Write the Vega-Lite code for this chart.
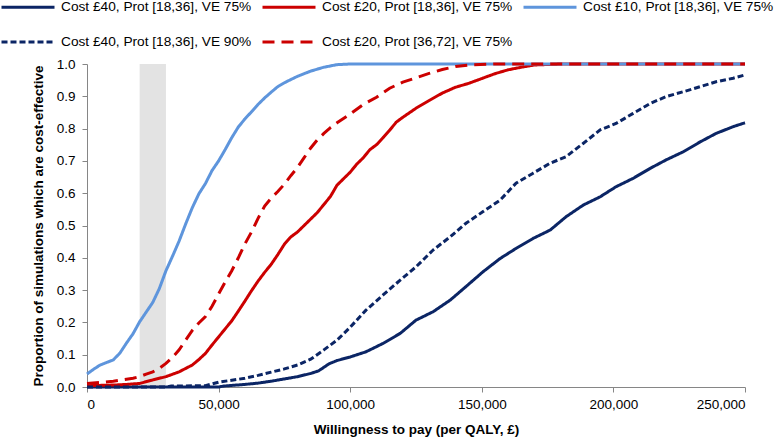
{
  "$schema": "https://vega.github.io/schema/vega-lite/v6.json",
  "width": 658,
  "height": 323,
  "autosize": {"type": "none"},
  "padding": {"left": 87, "top": 64, "right": 32, "bottom": 55},
  "background": "white",
  "config": {"view": {"stroke": null}, "font": "Liberation Sans"},
  "datasets": {
    "band": [{"from": 20000, "to": 30000}],
    "curves": [
      {"series": "Cost £40, Prot [18,36], VE 75%", "wtp": 0, "p": 0},
      {"series": "Cost £40, Prot [18,36], VE 75%", "wtp": 50000, "p": 0},
      {"series": "Cost £40, Prot [18,36], VE 75%", "wtp": 52000, "p": 0.003},
      {"series": "Cost £40, Prot [18,36], VE 75%", "wtp": 60000, "p": 0.008},
      {"series": "Cost £40, Prot [18,36], VE 75%", "wtp": 65000, "p": 0.012},
      {"series": "Cost £40, Prot [18,36], VE 75%", "wtp": 70000, "p": 0.018},
      {"series": "Cost £40, Prot [18,36], VE 75%", "wtp": 75000, "p": 0.025},
      {"series": "Cost £40, Prot [18,36], VE 75%", "wtp": 80000, "p": 0.032},
      {"series": "Cost £40, Prot [18,36], VE 75%", "wtp": 85000, "p": 0.042},
      {"series": "Cost £40, Prot [18,36], VE 75%", "wtp": 88000, "p": 0.05},
      {"series": "Cost £40, Prot [18,36], VE 75%", "wtp": 92000, "p": 0.072},
      {"series": "Cost £40, Prot [18,36], VE 75%", "wtp": 95000, "p": 0.082},
      {"series": "Cost £40, Prot [18,36], VE 75%", "wtp": 100000, "p": 0.093},
      {"series": "Cost £40, Prot [18,36], VE 75%", "wtp": 106000, "p": 0.109},
      {"series": "Cost £40, Prot [18,36], VE 75%", "wtp": 112500, "p": 0.135},
      {"series": "Cost £40, Prot [18,36], VE 75%", "wtp": 119000, "p": 0.166},
      {"series": "Cost £40, Prot [18,36], VE 75%", "wtp": 125000, "p": 0.207},
      {"series": "Cost £40, Prot [18,36], VE 75%", "wtp": 131500, "p": 0.233},
      {"series": "Cost £40, Prot [18,36], VE 75%", "wtp": 138000, "p": 0.269},
      {"series": "Cost £40, Prot [18,36], VE 75%", "wtp": 144000, "p": 0.311},
      {"series": "Cost £40, Prot [18,36], VE 75%", "wtp": 150500, "p": 0.357},
      {"series": "Cost £40, Prot [18,36], VE 75%", "wtp": 157000, "p": 0.398},
      {"series": "Cost £40, Prot [18,36], VE 75%", "wtp": 163000, "p": 0.429},
      {"series": "Cost £40, Prot [18,36], VE 75%", "wtp": 169500, "p": 0.46},
      {"series": "Cost £40, Prot [18,36], VE 75%", "wtp": 176000, "p": 0.486},
      {"series": "Cost £40, Prot [18,36], VE 75%", "wtp": 182000, "p": 0.527},
      {"series": "Cost £40, Prot [18,36], VE 75%", "wtp": 188500, "p": 0.563},
      {"series": "Cost £40, Prot [18,36], VE 75%", "wtp": 195000, "p": 0.589},
      {"series": "Cost £40, Prot [18,36], VE 75%", "wtp": 201000, "p": 0.62},
      {"series": "Cost £40, Prot [18,36], VE 75%", "wtp": 207500, "p": 0.646},
      {"series": "Cost £40, Prot [18,36], VE 75%", "wtp": 214000, "p": 0.677},
      {"series": "Cost £40, Prot [18,36], VE 75%", "wtp": 220000, "p": 0.703},
      {"series": "Cost £40, Prot [18,36], VE 75%", "wtp": 226500, "p": 0.728},
      {"series": "Cost £40, Prot [18,36], VE 75%", "wtp": 233000, "p": 0.759},
      {"series": "Cost £40, Prot [18,36], VE 75%", "wtp": 239000, "p": 0.785},
      {"series": "Cost £40, Prot [18,36], VE 75%", "wtp": 245500, "p": 0.806},
      {"series": "Cost £40, Prot [18,36], VE 75%", "wtp": 250000, "p": 0.818},

      {"series": "Cost £20, Prot [18,36], VE 75%", "wtp": 0, "p": 0.004},
      {"series": "Cost £20, Prot [18,36], VE 75%", "wtp": 10000, "p": 0.006},
      {"series": "Cost £20, Prot [18,36], VE 75%", "wtp": 15000, "p": 0.008},
      {"series": "Cost £20, Prot [18,36], VE 75%", "wtp": 20000, "p": 0.011},
      {"series": "Cost £20, Prot [18,36], VE 75%", "wtp": 25000, "p": 0.022},
      {"series": "Cost £20, Prot [18,36], VE 75%", "wtp": 30000, "p": 0.032},
      {"series": "Cost £20, Prot [18,36], VE 75%", "wtp": 35000, "p": 0.047},
      {"series": "Cost £20, Prot [18,36], VE 75%", "wtp": 40000, "p": 0.068},
      {"series": "Cost £20, Prot [18,36], VE 75%", "wtp": 42500, "p": 0.085},
      {"series": "Cost £20, Prot [18,36], VE 75%", "wtp": 45000, "p": 0.104},
      {"series": "Cost £20, Prot [18,36], VE 75%", "wtp": 47500, "p": 0.13},
      {"series": "Cost £20, Prot [18,36], VE 75%", "wtp": 50000, "p": 0.155},
      {"series": "Cost £20, Prot [18,36], VE 75%", "wtp": 52500, "p": 0.18},
      {"series": "Cost £20, Prot [18,36], VE 75%", "wtp": 55000, "p": 0.205},
      {"series": "Cost £20, Prot [18,36], VE 75%", "wtp": 57500, "p": 0.235},
      {"series": "Cost £20, Prot [18,36], VE 75%", "wtp": 60000, "p": 0.266},
      {"series": "Cost £20, Prot [18,36], VE 75%", "wtp": 62500, "p": 0.298},
      {"series": "Cost £20, Prot [18,36], VE 75%", "wtp": 65000, "p": 0.328},
      {"series": "Cost £20, Prot [18,36], VE 75%", "wtp": 67500, "p": 0.355},
      {"series": "Cost £20, Prot [18,36], VE 75%", "wtp": 70000, "p": 0.38},
      {"series": "Cost £20, Prot [18,36], VE 75%", "wtp": 72500, "p": 0.41},
      {"series": "Cost £20, Prot [18,36], VE 75%", "wtp": 75000, "p": 0.442},
      {"series": "Cost £20, Prot [18,36], VE 75%", "wtp": 77500, "p": 0.465},
      {"series": "Cost £20, Prot [18,36], VE 75%", "wtp": 80000, "p": 0.48},
      {"series": "Cost £20, Prot [18,36], VE 75%", "wtp": 82500, "p": 0.5},
      {"series": "Cost £20, Prot [18,36], VE 75%", "wtp": 85000, "p": 0.52},
      {"series": "Cost £20, Prot [18,36], VE 75%", "wtp": 87500, "p": 0.54},
      {"series": "Cost £20, Prot [18,36], VE 75%", "wtp": 90000, "p": 0.565},
      {"series": "Cost £20, Prot [18,36], VE 75%", "wtp": 92500, "p": 0.59},
      {"series": "Cost £20, Prot [18,36], VE 75%", "wtp": 95000, "p": 0.625},
      {"series": "Cost £20, Prot [18,36], VE 75%", "wtp": 97500, "p": 0.645},
      {"series": "Cost £20, Prot [18,36], VE 75%", "wtp": 100000, "p": 0.665},
      {"series": "Cost £20, Prot [18,36], VE 75%", "wtp": 102500, "p": 0.69},
      {"series": "Cost £20, Prot [18,36], VE 75%", "wtp": 105000, "p": 0.71},
      {"series": "Cost £20, Prot [18,36], VE 75%", "wtp": 107500, "p": 0.735},
      {"series": "Cost £20, Prot [18,36], VE 75%", "wtp": 110000, "p": 0.75},
      {"series": "Cost £20, Prot [18,36], VE 75%", "wtp": 112500, "p": 0.772},
      {"series": "Cost £20, Prot [18,36], VE 75%", "wtp": 115000, "p": 0.795},
      {"series": "Cost £20, Prot [18,36], VE 75%", "wtp": 117500, "p": 0.82},
      {"series": "Cost £20, Prot [18,36], VE 75%", "wtp": 120000, "p": 0.835},
      {"series": "Cost £20, Prot [18,36], VE 75%", "wtp": 125000, "p": 0.863},
      {"series": "Cost £20, Prot [18,36], VE 75%", "wtp": 130000, "p": 0.887},
      {"series": "Cost £20, Prot [18,36], VE 75%", "wtp": 135000, "p": 0.91},
      {"series": "Cost £20, Prot [18,36], VE 75%", "wtp": 140000, "p": 0.928},
      {"series": "Cost £20, Prot [18,36], VE 75%", "wtp": 145000, "p": 0.94},
      {"series": "Cost £20, Prot [18,36], VE 75%", "wtp": 150000, "p": 0.955},
      {"series": "Cost £20, Prot [18,36], VE 75%", "wtp": 155000, "p": 0.97},
      {"series": "Cost £20, Prot [18,36], VE 75%", "wtp": 160000, "p": 0.982},
      {"series": "Cost £20, Prot [18,36], VE 75%", "wtp": 165000, "p": 0.99},
      {"series": "Cost £20, Prot [18,36], VE 75%", "wtp": 170000, "p": 0.997},
      {"series": "Cost £20, Prot [18,36], VE 75%", "wtp": 180000, "p": 1},
      {"series": "Cost £20, Prot [18,36], VE 75%", "wtp": 250000, "p": 1},

      {"series": "Cost £10, Prot [18,36], VE 75%", "wtp": 0, "p": 0.04},
      {"series": "Cost £10, Prot [18,36], VE 75%", "wtp": 2500, "p": 0.055},
      {"series": "Cost £10, Prot [18,36], VE 75%", "wtp": 5000, "p": 0.068},
      {"series": "Cost £10, Prot [18,36], VE 75%", "wtp": 7500, "p": 0.076},
      {"series": "Cost £10, Prot [18,36], VE 75%", "wtp": 10000, "p": 0.084},
      {"series": "Cost £10, Prot [18,36], VE 75%", "wtp": 12500, "p": 0.105},
      {"series": "Cost £10, Prot [18,36], VE 75%", "wtp": 15000, "p": 0.136},
      {"series": "Cost £10, Prot [18,36], VE 75%", "wtp": 17500, "p": 0.165},
      {"series": "Cost £10, Prot [18,36], VE 75%", "wtp": 20000, "p": 0.202},
      {"series": "Cost £10, Prot [18,36], VE 75%", "wtp": 22500, "p": 0.232},
      {"series": "Cost £10, Prot [18,36], VE 75%", "wtp": 25000, "p": 0.262},
      {"series": "Cost £10, Prot [18,36], VE 75%", "wtp": 27500, "p": 0.305},
      {"series": "Cost £10, Prot [18,36], VE 75%", "wtp": 30000, "p": 0.36},
      {"series": "Cost £10, Prot [18,36], VE 75%", "wtp": 32500, "p": 0.405},
      {"series": "Cost £10, Prot [18,36], VE 75%", "wtp": 35000, "p": 0.452},
      {"series": "Cost £10, Prot [18,36], VE 75%", "wtp": 37500, "p": 0.505},
      {"series": "Cost £10, Prot [18,36], VE 75%", "wtp": 40000, "p": 0.555},
      {"series": "Cost £10, Prot [18,36], VE 75%", "wtp": 42500, "p": 0.598},
      {"series": "Cost £10, Prot [18,36], VE 75%", "wtp": 45000, "p": 0.63},
      {"series": "Cost £10, Prot [18,36], VE 75%", "wtp": 47500, "p": 0.67},
      {"series": "Cost £10, Prot [18,36], VE 75%", "wtp": 50000, "p": 0.7},
      {"series": "Cost £10, Prot [18,36], VE 75%", "wtp": 52500, "p": 0.735},
      {"series": "Cost £10, Prot [18,36], VE 75%", "wtp": 55000, "p": 0.772},
      {"series": "Cost £10, Prot [18,36], VE 75%", "wtp": 57500, "p": 0.805},
      {"series": "Cost £10, Prot [18,36], VE 75%", "wtp": 60000, "p": 0.83},
      {"series": "Cost £10, Prot [18,36], VE 75%", "wtp": 62500, "p": 0.852},
      {"series": "Cost £10, Prot [18,36], VE 75%", "wtp": 65000, "p": 0.875},
      {"series": "Cost £10, Prot [18,36], VE 75%", "wtp": 67500, "p": 0.895},
      {"series": "Cost £10, Prot [18,36], VE 75%", "wtp": 70000, "p": 0.913},
      {"series": "Cost £10, Prot [18,36], VE 75%", "wtp": 72500, "p": 0.93},
      {"series": "Cost £10, Prot [18,36], VE 75%", "wtp": 75000, "p": 0.942},
      {"series": "Cost £10, Prot [18,36], VE 75%", "wtp": 80000, "p": 0.962},
      {"series": "Cost £10, Prot [18,36], VE 75%", "wtp": 85000, "p": 0.978},
      {"series": "Cost £10, Prot [18,36], VE 75%", "wtp": 90000, "p": 0.99},
      {"series": "Cost £10, Prot [18,36], VE 75%", "wtp": 95000, "p": 0.998},
      {"series": "Cost £10, Prot [18,36], VE 75%", "wtp": 100000, "p": 1},
      {"series": "Cost £10, Prot [18,36], VE 75%", "wtp": 250000, "p": 1},

      {"series": "Cost £40, Prot [18,36], VE 90%", "wtp": 0, "p": 0},
      {"series": "Cost £40, Prot [18,36], VE 90%", "wtp": 30000, "p": 0},
      {"series": "Cost £40, Prot [18,36], VE 90%", "wtp": 32000, "p": 0.003},
      {"series": "Cost £40, Prot [18,36], VE 90%", "wtp": 45000, "p": 0.004},
      {"series": "Cost £40, Prot [18,36], VE 90%", "wtp": 50000, "p": 0.015},
      {"series": "Cost £40, Prot [18,36], VE 90%", "wtp": 55000, "p": 0.021},
      {"series": "Cost £40, Prot [18,36], VE 90%", "wtp": 60000, "p": 0.027},
      {"series": "Cost £40, Prot [18,36], VE 90%", "wtp": 65000, "p": 0.036},
      {"series": "Cost £40, Prot [18,36], VE 90%", "wtp": 70000, "p": 0.046},
      {"series": "Cost £40, Prot [18,36], VE 90%", "wtp": 75000, "p": 0.056},
      {"series": "Cost £40, Prot [18,36], VE 90%", "wtp": 80000, "p": 0.068},
      {"series": "Cost £40, Prot [18,36], VE 90%", "wtp": 85000, "p": 0.086},
      {"series": "Cost £40, Prot [18,36], VE 90%", "wtp": 90000, "p": 0.115},
      {"series": "Cost £40, Prot [18,36], VE 90%", "wtp": 95000, "p": 0.145},
      {"series": "Cost £40, Prot [18,36], VE 90%", "wtp": 100000, "p": 0.185},
      {"series": "Cost £40, Prot [18,36], VE 90%", "wtp": 106000, "p": 0.238},
      {"series": "Cost £40, Prot [18,36], VE 90%", "wtp": 112500, "p": 0.285},
      {"series": "Cost £40, Prot [18,36], VE 90%", "wtp": 119000, "p": 0.331},
      {"series": "Cost £40, Prot [18,36], VE 90%", "wtp": 125000, "p": 0.372},
      {"series": "Cost £40, Prot [18,36], VE 90%", "wtp": 131500, "p": 0.424},
      {"series": "Cost £40, Prot [18,36], VE 90%", "wtp": 138000, "p": 0.465},
      {"series": "Cost £40, Prot [18,36], VE 90%", "wtp": 144000, "p": 0.507},
      {"series": "Cost £40, Prot [18,36], VE 90%", "wtp": 150500, "p": 0.543},
      {"series": "Cost £40, Prot [18,36], VE 90%", "wtp": 157000, "p": 0.579},
      {"series": "Cost £40, Prot [18,36], VE 90%", "wtp": 163000, "p": 0.631},
      {"series": "Cost £40, Prot [18,36], VE 90%", "wtp": 169500, "p": 0.662},
      {"series": "Cost £40, Prot [18,36], VE 90%", "wtp": 176000, "p": 0.693},
      {"series": "Cost £40, Prot [18,36], VE 90%", "wtp": 182000, "p": 0.713},
      {"series": "Cost £40, Prot [18,36], VE 90%", "wtp": 188500, "p": 0.754},
      {"series": "Cost £40, Prot [18,36], VE 90%", "wtp": 195000, "p": 0.796},
      {"series": "Cost £40, Prot [18,36], VE 90%", "wtp": 201000, "p": 0.816},
      {"series": "Cost £40, Prot [18,36], VE 90%", "wtp": 207500, "p": 0.847},
      {"series": "Cost £40, Prot [18,36], VE 90%", "wtp": 214000, "p": 0.878},
      {"series": "Cost £40, Prot [18,36], VE 90%", "wtp": 220000, "p": 0.899},
      {"series": "Cost £40, Prot [18,36], VE 90%", "wtp": 226500, "p": 0.914},
      {"series": "Cost £40, Prot [18,36], VE 90%", "wtp": 233000, "p": 0.93},
      {"series": "Cost £40, Prot [18,36], VE 90%", "wtp": 239000, "p": 0.945},
      {"series": "Cost £40, Prot [18,36], VE 90%", "wtp": 245500, "p": 0.956},
      {"series": "Cost £40, Prot [18,36], VE 90%", "wtp": 250000, "p": 0.966},

      {"series": "Cost £20, Prot [36,72], VE 75%", "wtp": 0, "p": 0.011},
      {"series": "Cost £20, Prot [36,72], VE 75%", "wtp": 5000, "p": 0.014},
      {"series": "Cost £20, Prot [36,72], VE 75%", "wtp": 10000, "p": 0.018},
      {"series": "Cost £20, Prot [36,72], VE 75%", "wtp": 15000, "p": 0.024},
      {"series": "Cost £20, Prot [36,72], VE 75%", "wtp": 17500, "p": 0.027},
      {"series": "Cost £20, Prot [36,72], VE 75%", "wtp": 20000, "p": 0.032},
      {"series": "Cost £20, Prot [36,72], VE 75%", "wtp": 22500, "p": 0.04},
      {"series": "Cost £20, Prot [36,72], VE 75%", "wtp": 25000, "p": 0.047},
      {"series": "Cost £20, Prot [36,72], VE 75%", "wtp": 27500, "p": 0.058},
      {"series": "Cost £20, Prot [36,72], VE 75%", "wtp": 30000, "p": 0.073},
      {"series": "Cost £20, Prot [36,72], VE 75%", "wtp": 32500, "p": 0.092},
      {"series": "Cost £20, Prot [36,72], VE 75%", "wtp": 35000, "p": 0.115},
      {"series": "Cost £20, Prot [36,72], VE 75%", "wtp": 37500, "p": 0.145},
      {"series": "Cost £20, Prot [36,72], VE 75%", "wtp": 40000, "p": 0.175},
      {"series": "Cost £20, Prot [36,72], VE 75%", "wtp": 42500, "p": 0.198},
      {"series": "Cost £20, Prot [36,72], VE 75%", "wtp": 45000, "p": 0.218},
      {"series": "Cost £20, Prot [36,72], VE 75%", "wtp": 47500, "p": 0.25},
      {"series": "Cost £20, Prot [36,72], VE 75%", "wtp": 50000, "p": 0.288},
      {"series": "Cost £20, Prot [36,72], VE 75%", "wtp": 52500, "p": 0.325},
      {"series": "Cost £20, Prot [36,72], VE 75%", "wtp": 55000, "p": 0.36},
      {"series": "Cost £20, Prot [36,72], VE 75%", "wtp": 57500, "p": 0.4},
      {"series": "Cost £20, Prot [36,72], VE 75%", "wtp": 60000, "p": 0.443},
      {"series": "Cost £20, Prot [36,72], VE 75%", "wtp": 62500, "p": 0.48},
      {"series": "Cost £20, Prot [36,72], VE 75%", "wtp": 65000, "p": 0.522},
      {"series": "Cost £20, Prot [36,72], VE 75%", "wtp": 67500, "p": 0.56},
      {"series": "Cost £20, Prot [36,72], VE 75%", "wtp": 70000, "p": 0.585},
      {"series": "Cost £20, Prot [36,72], VE 75%", "wtp": 72500, "p": 0.605},
      {"series": "Cost £20, Prot [36,72], VE 75%", "wtp": 75000, "p": 0.628},
      {"series": "Cost £20, Prot [36,72], VE 75%", "wtp": 77500, "p": 0.655},
      {"series": "Cost £20, Prot [36,72], VE 75%", "wtp": 80000, "p": 0.68},
      {"series": "Cost £20, Prot [36,72], VE 75%", "wtp": 82500, "p": 0.71},
      {"series": "Cost £20, Prot [36,72], VE 75%", "wtp": 85000, "p": 0.74},
      {"series": "Cost £20, Prot [36,72], VE 75%", "wtp": 87500, "p": 0.765},
      {"series": "Cost £20, Prot [36,72], VE 75%", "wtp": 90000, "p": 0.785},
      {"series": "Cost £20, Prot [36,72], VE 75%", "wtp": 92500, "p": 0.803},
      {"series": "Cost £20, Prot [36,72], VE 75%", "wtp": 95000, "p": 0.818},
      {"series": "Cost £20, Prot [36,72], VE 75%", "wtp": 100000, "p": 0.845},
      {"series": "Cost £20, Prot [36,72], VE 75%", "wtp": 105000, "p": 0.875},
      {"series": "Cost £20, Prot [36,72], VE 75%", "wtp": 110000, "p": 0.897},
      {"series": "Cost £20, Prot [36,72], VE 75%", "wtp": 115000, "p": 0.925},
      {"series": "Cost £20, Prot [36,72], VE 75%", "wtp": 120000, "p": 0.944},
      {"series": "Cost £20, Prot [36,72], VE 75%", "wtp": 125000, "p": 0.957},
      {"series": "Cost £20, Prot [36,72], VE 75%", "wtp": 130000, "p": 0.971},
      {"series": "Cost £20, Prot [36,72], VE 75%", "wtp": 135000, "p": 0.983},
      {"series": "Cost £20, Prot [36,72], VE 75%", "wtp": 140000, "p": 0.992},
      {"series": "Cost £20, Prot [36,72], VE 75%", "wtp": 145000, "p": 0.997},
      {"series": "Cost £20, Prot [36,72], VE 75%", "wtp": 155000, "p": 1},
      {"series": "Cost £20, Prot [36,72], VE 75%", "wtp": 250000, "p": 1}
    ]
  },
  "layer": [
    {
      "data": {"name": "band"},
      "mark": {"type": "rect", "color": "#E3E3E3"},
      "encoding": {
        "x": {
          "field": "from", "type": "quantitative",
          "scale": {"domain": [0, 250000], "nice": false},
          "axis": {
            "title": "Willingness to pay (per QALY, £)",
            "values": [0, 50000, 100000, 150000, 200000, 250000],
            "format": ",d",
            "grid": false, "labelOverlap": false,
            "domainColor": "#868686", "tickColor": "#868686", "tickSize": 5,
            "labelFontSize": 13.5, "labelColor": "#000", "labelPadding": 5,
            "titleFontSize": 13.5, "titleFontWeight": "bold", "titleColor": "#000", "titlePadding": 12
          }
        },
        "x2": {"field": "to"},
        "y": {
          "datum": 0, "type": "quantitative",
          "scale": {"domain": [0, 1], "nice": false},
          "axis": {
            "title": "Proportion of simulations which are cost-effective",
            "values": [0, 0.1, 0.2, 0.3, 0.4, 0.5, 0.6, 0.7, 0.8, 0.9, 1],
            "format": ".1f",
            "grid": false, "labelOverlap": false,
            "domainColor": "#868686", "tickColor": "#868686", "tickSize": 5,
            "labelFontSize": 13.5, "labelColor": "#000", "labelPadding": 7,
            "titleFontSize": 13.5, "titleFontWeight": "bold", "titleColor": "#000", "titlePadding": 11
          }
        },
        "y2": {"datum": 1}
      }
    },
    {
      "data": {"name": "curves"},
      "mark": {"type": "line", "strokeWidth": 3, "strokeCap": "butt"},
      "encoding": {
        "x": {
          "field": "wtp", "type": "quantitative",
          "scale": {"domain": [0, 250000], "nice": false},
          "axis": {
            "title": "Willingness to pay (per QALY, £)",
            "values": [0, 50000, 100000, 150000, 200000, 250000],
            "format": ",d",
            "grid": false, "labelOverlap": false,
            "domainColor": "#868686", "tickColor": "#868686", "tickSize": 5,
            "labelFontSize": 13.5, "labelColor": "#000", "labelPadding": 5,
            "titleFontSize": 13.5, "titleFontWeight": "bold", "titleColor": "#000", "titlePadding": 12
          }
        },
        "y": {
          "field": "p", "type": "quantitative",
          "scale": {"domain": [0, 1], "nice": false},
          "axis": {
            "title": "Proportion of simulations which are cost-effective",
            "values": [0, 0.1, 0.2, 0.3, 0.4, 0.5, 0.6, 0.7, 0.8, 0.9, 1],
            "format": ".1f",
            "grid": false, "labelOverlap": false,
            "domainColor": "#868686", "tickColor": "#868686", "tickSize": 5,
            "labelFontSize": 13.5, "labelColor": "#000", "labelPadding": 7,
            "titleFontSize": 13.5, "titleFontWeight": "bold", "titleColor": "#000", "titlePadding": 11
          }
        },
        "color": {
          "field": "series", "type": "nominal",
          "scale": {
            "domain": ["Cost £40, Prot [18,36], VE 75%", "Cost £20, Prot [18,36], VE 75%", "Cost £10, Prot [18,36], VE 75%", "Cost £40, Prot [18,36], VE 90%", "Cost £20, Prot [36,72], VE 75%"],
            "range": ["#0B2565", "#CC0000", "#5E95DC", "#0B2565", "#CC0000"]
          },
          "legend": {
            "orient": "none", "legendX": -87, "legendY": -85,
            "direction": "horizontal", "columns": 3, "title": null,
            "symbolType": "stroke", "symbolSize": 2809, "symbolStrokeWidth": 3,
            "labelFontSize": 13.7, "labelColor": "#000", "labelOffset": 5, "labelLimit": 300,
            "columnPadding": 4, "rowPadding": -26, "gridAlign": "all", "padding": 0
          }
        },
        "strokeDash": {
          "field": "series", "type": "nominal",
          "scale": {
            "domain": ["Cost £40, Prot [18,36], VE 75%", "Cost £20, Prot [18,36], VE 75%", "Cost £10, Prot [18,36], VE 75%", "Cost £40, Prot [18,36], VE 90%", "Cost £20, Prot [36,72], VE 75%"],
            "range": [[1, 0], [1, 0], [1, 0], [6, 3], [12, 7]]
          }
        }
      }
    }
  ]
}
